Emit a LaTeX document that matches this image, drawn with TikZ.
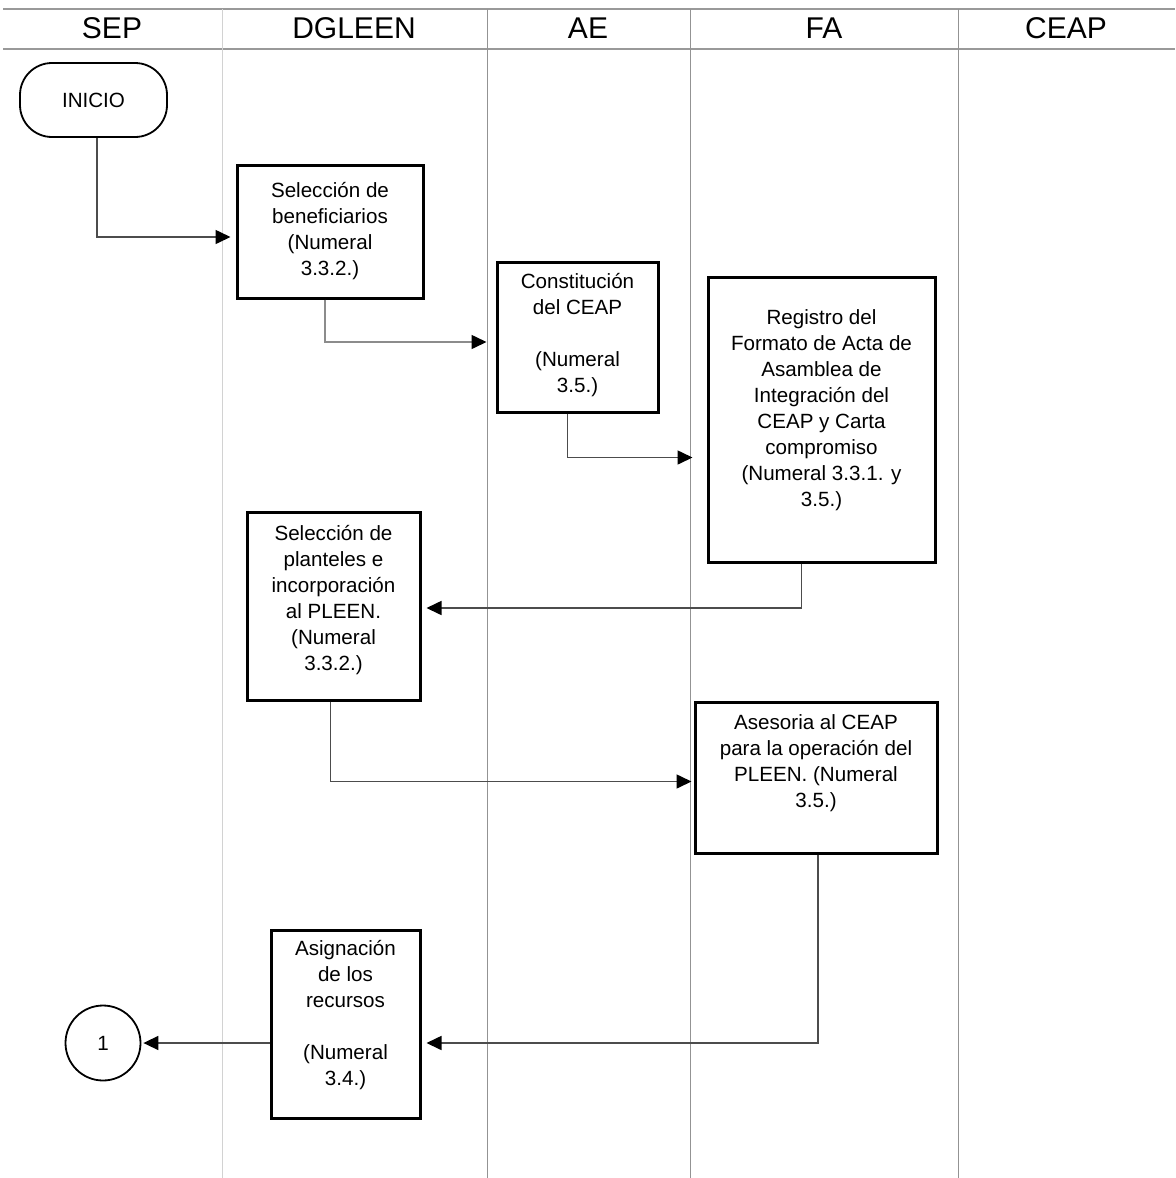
\documentclass[tikz,border=0pt]{standalone}
\usepackage{fontspec}
\setmainfont{Liberation Sans}
\usetikzlibrary{shapes,arrows.meta}

% text of a box, lifted by #1 inside the box
\newcommand{\boxtxt}[2]{\raisebox{#1}[\height][\depth]{\begin{tabular}{@{}c@{}}#2\end{tabular}}}

\begin{document}
\begin{tikzpicture}[x=0.5pt,y=-0.5pt]
        \useasboundingbox (0,0) rectangle (1175,1178);

        \tikzstyle{rule}=[draw=gray!80, line width=1.4pt]
        \tikzstyle{lane}=[draw=gray!85, line width=0.5pt]
        \tikzstyle{head}=[font=\fontsize{15}{18}\selectfont]
        \tikzstyle{proc}=[draw, rectangle, line width=1.5pt, inner sep=0pt, font=\fontsize{10.3}{13}\selectfont]
        \tikzstyle{term}=[draw, rectangle, rounded corners=16pt, line width=0.9pt, font=\fontsize{10.3}{13}\selectfont]
        \tikzstyle{link}=[draw=black!70, line width=0.8pt, shorten >=2.5pt, -{Triangle[length=7.5pt,width=7pt,color=black]}]

        % header of the lanes
        \draw[rule] (3,9) -- (1175,9);
        \draw[rule] (3,49) -- (1175,49);
        \draw[lane, draw=gray!35] (222,9) -- (222,1178);
        \foreach \x in {487,690,958} {
            \draw[lane] (\x,9) -- (\x,1178);
        };
        \foreach \name/\x in {SEP/112, DGLEEN/354, AE/588, FA/824, CEAP/1066} {
            \node[head] (h-\name) at (\x,28) {\name};
        };

        \node[term, minimum width=73.5pt, minimum height=37pt] (inicio) at (93.5,100) {INICIO};

        \node[proc, minimum width=93pt, minimum height=66.5pt] (selben) at (330,231.5)
            {\boxtxt{0pt}{Selección de\\beneficiarios\\(Numeral\\3.3.2.)}};
        \draw[link] ([xshift=1.75pt]inicio.south) |- ([yshift=-2.75pt]selben.west);

        \node[proc, minimum width=80.5pt, minimum height=75pt] (const) at (577.5,337)
            {\boxtxt{1pt}{Constitución\\del CEAP\\ \\(Numeral\\3.5.)}};
        \draw[link, draw=black!45, shorten >=4.5pt] ([xshift=-2.5pt]selben.south) |- ([yshift=-2.5pt]const.west);

        \node[proc, minimum width=113.5pt, minimum height=142.5pt] (registro) at (821.5,419.5)
            {\boxtxt{4.5pt}{Registro del\\Formato de Acta de\\Asamblea de\\Integración del\\CEAP y Carta\\compromiso\\(Numeral 3.3.1. y\\3.5.)}};
        \draw[link, shorten >=7pt] ([xshift=-5pt]const.south) |- ([yshift=-19pt]registro.west);

        \node[proc, minimum width=86.5pt, minimum height=94pt] (plant) at (333.5,606)
            {\boxtxt{3pt}{Selección de\\planteles e\\incorporación\\al PLEEN.\\(Numeral\\3.3.2.)}};
        \draw[link] ([xshift=-10pt]registro.south) |- ([yshift=-1pt]plant.east);

        \node[proc, minimum width=121pt, minimum height=75.5pt] (asesoria) at (816,777.5)
            {\boxtxt{7pt}{Asesoria al CEAP\\para la operación del\\PLEEN. (Numeral\\3.5.)}};
        \draw[link, shorten >=1pt] ([xshift=-1.5pt]plant.south) |- ([yshift=-2pt]asesoria.west);

        \node[circle, draw, line width=0.9pt, minimum size=37.5pt, font=\fontsize{10.3}{13}\selectfont] (uno) at (103,1043) {1};

        \node[proc, minimum width=74.5pt, minimum height=94pt] (asig) at (345.5,1024)
            {\boxtxt{4.5pt}{Asignación\\de los\\recursos\\ \\(Numeral\\3.4.)}};
        \draw[link] ([xshift=1pt]asesoria.south) |- (asig.east |- uno.east);
        \draw[link, shorten >=1pt] (asig.west |- uno.east) -- (uno.east);
\end{tikzpicture}
\end{document}
